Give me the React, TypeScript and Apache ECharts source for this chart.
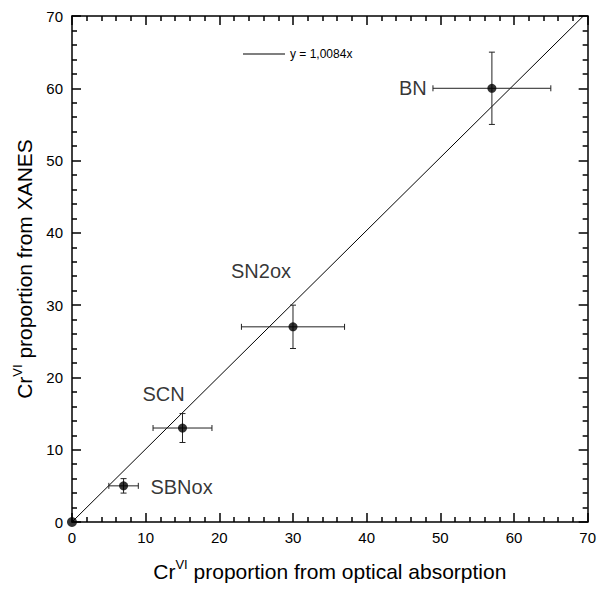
import React, { useEffect, useRef } from "react";
import * as echarts from "echarts";

const sampleNames = ["SBNox", "SCN", "SN2ox", "BN"];
const opticalValues = [7, 15, 30, 57];
const xanesValues = [5, 13, 27, 60];
const opticalErrors = [2, 4, 7, 8];
const xanesErrors = [1, 2, 3, 5];
const labelOffsets = [
  [58, 1],
  [-19, -34],
  [-32, -56],
  [-79, 0],
];
const originPoint = [0, 0];
const fitName = "y = 1,0084x";
const fitLine = [
  [0, 0],
  [70, 70.588],
];
const axisMin = 0;
const axisMax = 70;
const axisInterval = 10;

const FONT = "'Liberation Sans', Arial, Helvetica, sans-serif";

export default function App() {
  const ref = useRef<HTMLDivElement>(null);

  useEffect(() => {
    if (!ref.current) return;
    const chart = echarts.init(ref.current, undefined, { renderer: "svg" });

    const axisCommon = () => ({
      min: axisMin,
      max: axisMax,
      interval: axisInterval,
      axisLine: { show: true, onZero: false, lineStyle: { color: "#000", width: 1.5 } },
      axisTick: { show: true, inside: true, length: 9, lineStyle: { color: "#000", width: 1.5 } },
      minorTick: { show: true, splitNumber: 5, length: 5, lineStyle: { color: "#000", width: 1.5 } },
      splitLine: { show: false },
      minorSplitLine: { show: false },
    });

    const errData = sampleNames.map((n, i) => [
      opticalValues[i],
      xanesValues[i],
      opticalErrors[i],
      xanesErrors[i],
    ]);

    const pointData = sampleNames.map((n, i) => ({
      name: n,
      value: [opticalValues[i], xanesValues[i]],
      label: {
        show: true,
        formatter: n,
        position: "inside",
        offset: labelOffsets[i],
        align: "center",
        verticalAlign: "middle",
        color: "#000",
        fontSize: 20,
        fontFamily: FONT,
      },
    }));

    const titleRich = {
      main: { fontSize: 21, fontFamily: FONT, color: "#000", lineHeight: 26 },
      sup: { fontSize: 13, fontFamily: FONT, color: "#000", lineHeight: 12, verticalAlign: "top" as const },
    };

    chart.setOption({
      animation: false,
      backgroundColor: "#fff",
      textStyle: { fontFamily: FONT },
      grid: { left: 72, right: 11, top: 16, bottom: 70, containLabel: false },
      legend: {
        show: true,
        data: [{ name: fitName, icon: "rect" }],
        left: 243,
        top: 48,
        padding: 0,
        itemWidth: 42,
        itemHeight: 1,
        itemGap: 5,
        textStyle: { fontSize: 12, color: "#000", fontFamily: FONT },
        selectedMode: false,
      },
      xAxis: [
        {
          ...axisCommon(),
          type: "value",
          position: "bottom",
          name: "{main|Cr}{sup|VI}{main| proportion from optical absorption}",
          nameLocation: "middle",
          nameGap: 36,
          nameTextStyle: { rich: titleRich },
          axisLabel: { show: true, color: "#000", fontSize: 15, fontFamily: FONT, margin: 8 },
        },
        {
          ...axisCommon(),
          type: "value",
          position: "top",
          axisLabel: { show: false },
        },
      ],
      yAxis: [
        {
          ...axisCommon(),
          type: "value",
          position: "left",
          name: "{main|Cr}{sup|VI}{main| proportion from XANES}",
          nameLocation: "middle",
          nameRotate: 90,
          nameGap: 35,
          nameTextStyle: { rich: titleRich },
          axisLabel: { show: true, color: "#000", fontSize: 15, fontFamily: FONT, margin: 9 },
        },
        {
          ...axisCommon(),
          type: "value",
          position: "right",
          axisLabel: { show: false },
        },
      ],
      series: [
        {
          name: fitName,
          type: "line",
          data: fitLine,
          symbol: "none",
          clip: true,
          color: "#000",
          lineStyle: { color: "#000", width: 1 },
          z: 1,
          silent: true,
        },
        {
          type: "custom",
          name: "errors",
          data: errData,
          encode: { x: 0, y: 1 },
          z: 2,
          renderItem: (params: any, api: any) => {
            const x = api.value(0);
            const y = api.value(1);
            const ex = api.value(2);
            const ey = api.value(3);
            const l = api.coord([x - ex, y]);
            const r = api.coord([x + ex, y]);
            const t = api.coord([x, y + ey]);
            const b = api.coord([x, y - ey]);
            const cap = 3;
            const style = { stroke: "#222", lineWidth: 1, fill: "none" };
            const ln = (x1: number, y1: number, x2: number, y2: number) => ({
              type: "line",
              shape: { x1, y1, x2, y2 },
              style,
            });
            return {
              type: "group",
              children: [
                ln(l[0], l[1], r[0], r[1]),
                ln(l[0], l[1] - cap, l[0], l[1] + cap),
                ln(r[0], r[1] - cap, r[0], r[1] + cap),
                ln(t[0], t[1], b[0], b[1]),
                ln(t[0] - cap, t[1], t[0] + cap, t[1]),
                ln(b[0] - cap, b[1], b[0] + cap, b[1]),
              ],
            };
          },
        },
        {
          type: "scatter",
          name: "samples",
          data: pointData,
          symbol: "circle",
          symbolSize: 9,
          itemStyle: { color: "#000" },
          z: 3,
        },
        {
          type: "scatter",
          name: "origin",
          data: [originPoint],
          symbol: "circle",
          symbolSize: 10,
          itemStyle: { color: "#000" },
          clip: false,
          z: 4,
        },
      ],
    });

    return () => chart.dispose();
  }, []);

  return <div ref={ref} style={{ width: 599, height: 592, position: "absolute", left: 0, top: 0 }} />;
}
